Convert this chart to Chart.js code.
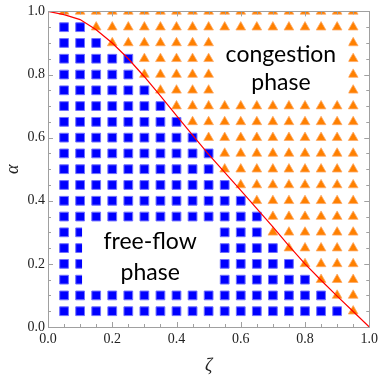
<!DOCTYPE html>
<html lang="en">
<head>
<meta charset="UTF-8">
<title>Phase diagram</title>
<script src="https://cdn.jsdelivr.net/npm/chart.js"></script>
<style>
    html, body { margin: 0; padding: 0; background: #fff; }
    canvas { display: block; }
</style>
</head>
<body>
<canvas id="phaseChart" width="382" height="377"></canvas>
<script>
// simulated grid of (zeta, alpha) pairs
const zetaValues = [0.05, 0.1, 0.15, 0.2, 0.25, 0.3, 0.35, 0.4, 0.45, 0.5,
                    0.55, 0.6, 0.65, 0.7, 0.75, 0.8, 0.85, 0.9, 0.95];
const alphaValues = [1.0, 0.95, 0.9, 0.85, 0.8, 0.75, 0.7, 0.65, 0.6, 0.55,
                     0.5, 0.45, 0.4, 0.35, 0.3, 0.25, 0.2, 0.15, 0.1, 0.05];
// number of columns (from the left) that end in free flow, one per alpha row
const freeFlowCounts = [0, 2, 3, 5, 5, 6, 7, 8, 9, 10,
                        10, 11, 12, 13, 13, 14, 15, 16, 17, 18];

// theoretical phase boundary
const boundaryZeta = [0, 0.05, 0.1, 0.15, 0.2, 0.25, 0.3, 0.35, 0.4, 0.45, 0.5,
                      0.55, 0.6, 0.65, 0.7, 0.75, 0.8, 0.85, 0.9, 0.95, 1.0];
const boundaryAlpha = [1.0, 0.99, 0.974, 0.942, 0.9, 0.85, 0.793, 0.732, 0.67, 0.608, 0.547,
                       0.49, 0.433, 0.375, 0.317, 0.257, 0.2, 0.148, 0.098, 0.049, 0];

const tickLabels = ['0.0', '0.2', '0.4', '0.6', '0.8', '1.0'];
const congestionText = ['congestion', 'phase'];
const freeFlowText = ['free-flow', 'phase'];

// split the grid into the two phases
const freeFlowPoints = [];
const congestionPoints = [];
alphaValues.forEach((a, row) => {
    zetaValues.forEach((z, col) => {
        if (col < freeFlowCounts[row]) freeFlowPoints.push({x: z, y: a});
        else congestionPoints.push({x: z, y: a});
    });
});
const boundary = boundaryZeta.map((z, i) => ({x: z, y: boundaryAlpha[i]}));

const frameColor = '#a0a0a0';

const phasePlugin = {
    id: 'phaseLabels',
    afterDatasetsDraw(chart) {
        const {ctx, scales: {x, y}} = chart;
        ctx.save();
        // white boxes behind the labels, like an inset
        ctx.fillStyle = '#fff';
        const box = (x0, x1, y0, y1) => {
            const px0 = x.getPixelForValue(x0), px1 = x.getPixelForValue(x1);
            const py0 = y.getPixelForValue(y0), py1 = y.getPixelForValue(y1);
            ctx.fillRect(px0, py0, px1 - px0, py1 - py0);
        };
        box(0.52, 0.935, 0.93, 0.72);
        box(0.106, 0.52, 0.33, 0.12);

        ctx.fillStyle = '#000';
        ctx.textAlign = 'center';
        ctx.textBaseline = 'alphabetic';
        ctx.font = '23px Lato';
        ctx.fillText(congestionText[0], x.getPixelForValue(0.725), y.getPixelForValue(0.84));
        ctx.fillText(congestionText[1], x.getPixelForValue(0.725), y.getPixelForValue(0.75));
        ctx.fillText(freeFlowText[0], x.getPixelForValue(0.318), y.getPixelForValue(0.247));
        ctx.fillText(freeFlowText[1], x.getPixelForValue(0.318), y.getPixelForValue(0.15));
        ctx.restore();
    },
    afterDraw(chart) {
        const {ctx, chartArea: a, scales: {x, y}} = chart;
        ctx.save();
        ctx.strokeStyle = frameColor;
        ctx.lineWidth = 1;
        ctx.strokeRect(Math.round(a.left) + 0.5, Math.round(a.top) + 0.5,
                       Math.round(a.right - a.left), Math.round(a.bottom - a.top));
        // inward ticks on all four sides, majors every 0.2
        ctx.beginPath();
        for (let i = 1; i < 20; i++) {
            const v = i / 20;
            const len = i % 4 === 0 ? 5 : 3;
            const px = Math.round(x.getPixelForValue(v)) + 0.5;
            const py = Math.round(y.getPixelForValue(v)) + 0.5;
            ctx.moveTo(px, a.bottom); ctx.lineTo(px, a.bottom - len);
            ctx.moveTo(px, a.top); ctx.lineTo(px, a.top + len);
            ctx.moveTo(a.left, py); ctx.lineTo(a.left + len, py);
            ctx.moveTo(a.right, py); ctx.lineTo(a.right - len, py);
        }
        ctx.stroke();
        ctx.restore();
    }
};

const tickFont = {family: 'Liberation Serif', size: 14};
const titleFont = {family: 'Liberation Serif', size: 18, style: 'italic'};

new Chart(document.getElementById('phaseChart').getContext('2d'), {
    type: 'scatter',
    data: {
        datasets: [
            {
                type: 'line',
                label: 'boundary',
                data: boundary,
                borderColor: '#ff0000',
                borderWidth: 1.2,
                pointRadius: 0,
                tension: 0,
                fill: false
            },
            {
                label: 'congestion',
                data: congestionPoints,
                pointStyle: 'triangle',
                pointRadius: 5.6,
                backgroundColor: 'rgb(255,128,0)',
                borderColor: 'rgb(255,170,100)',
                borderWidth: 0.8,
                clip: 0
            },
            {
                label: 'free flow',
                data: freeFlowPoints,
                pointStyle: 'rect',
                pointRadius: 6.2,
                backgroundColor: '#0000ff',
                borderColor: '#7070ff',
                borderWidth: 1,
                clip: 0
            }
        ]
    },
    options: {
        responsive: false,
        animation: false,
        devicePixelRatio: 1,
        layout: {padding: {top: 7, right: 10, left: 0, bottom: 0}},
        plugins: {legend: {display: false}, tooltip: {enabled: false}},
        scales: {
            x: {
                type: 'linear', min: 0, max: 1,
                grid: {display: false, drawTicks: false},
                border: {display: false},
                ticks: {
                    stepSize: 0.2, autoSkip: false, maxRotation: 0, padding: 4,
                    font: tickFont, color: '#222',
                    callback: (v) => tickLabels[Math.round(v * 5)]
                },
                title: {display: true, text: 'ζ', font: titleFont, color: '#222', padding: 0},
                afterFit: (s) => { s.height = 50; }
            },
            y: {
                type: 'linear', min: 0, max: 1,
                grid: {display: false, drawTicks: false},
                border: {display: false},
                ticks: {
                    stepSize: 0.2, autoSkip: false, padding: 3,
                    font: tickFont, color: '#222',
                    callback: (v) => tickLabels[Math.round(v * 5)]
                },
                title: {display: true, text: 'α', font: titleFont, color: '#222', padding: {top: 2, bottom: 0}},
                afterFit: (s) => { s.width = 48; }
            }
        }
    },
    plugins: [phasePlugin]
});
</script>
</body>
</html>
